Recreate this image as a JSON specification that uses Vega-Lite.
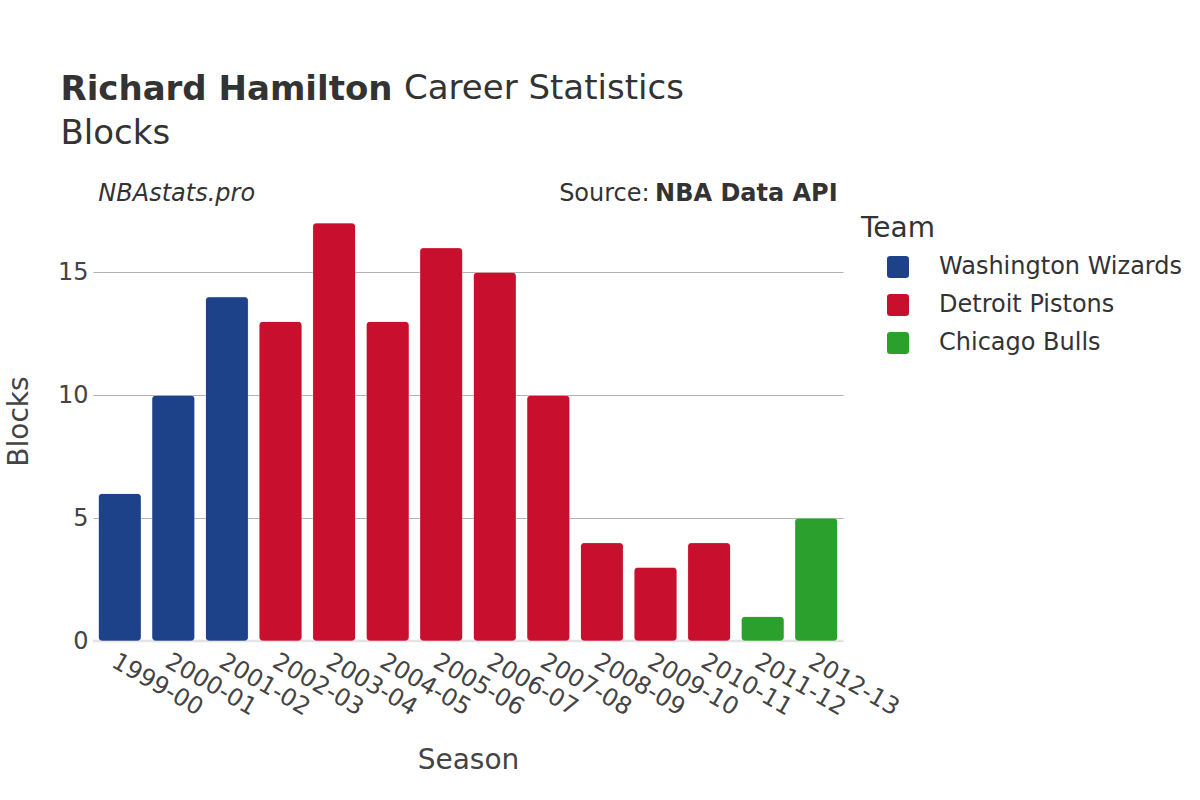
{
  "$schema": "https://vega.github.io/schema/vega-lite/v6.json",
  "background": "white",
  "padding": {"left": 5, "top": 72, "right": 5, "bottom": 5},
  "title": {
    "text": "Richard Hamilton",
    "subtitle": "Blocks",
    "anchor": "start",
    "frame": "bounds",
    "dx": 55,
    "dy": 83,
    "font": "DejaVu Sans",
    "subtitleFont": "DejaVu Sans",
    "fontSize": 34,
    "subtitleFontSize": 34,
    "fontWeight": "bold",
    "subtitleFontWeight": "normal",
    "color": "#333333",
    "subtitleColor": "#333333",
    "subtitlePadding": 10
  },
  "vconcat": [
    {
      "width": 750,
      "height": 440,
      "title": {
        "text": "Career Statistics",
        "anchor": "start",
        "frame": "group",
        "dx": 311,
        "offset": 76,
        "font": "DejaVu Sans",
        "fontSize": 34,
        "fontWeight": "normal",
        "color": "#333333"
      },
      "layer": [
        {
          "data": {"values": [{"z": 0}]},
          "mark": {"type": "rule", "color": "#e3e3e3", "strokeWidth": 2.5},
          "encoding": {"y": {"field": "z", "type": "quantitative"}}
        },
        {
          "data": {
            "values": [
              {"Season": "1999-00", "Team": "Washington Wizards", "Blocks": 6},
              {"Season": "2000-01", "Team": "Washington Wizards", "Blocks": 10},
              {"Season": "2001-02", "Team": "Washington Wizards", "Blocks": 14},
              {"Season": "2002-03", "Team": "Detroit Pistons", "Blocks": 13},
              {"Season": "2003-04", "Team": "Detroit Pistons", "Blocks": 17},
              {"Season": "2004-05", "Team": "Detroit Pistons", "Blocks": 13},
              {"Season": "2005-06", "Team": "Detroit Pistons", "Blocks": 16},
              {"Season": "2006-07", "Team": "Detroit Pistons", "Blocks": 15},
              {"Season": "2007-08", "Team": "Detroit Pistons", "Blocks": 10},
              {"Season": "2008-09", "Team": "Detroit Pistons", "Blocks": 4},
              {"Season": "2009-10", "Team": "Detroit Pistons", "Blocks": 3},
              {"Season": "2010-11", "Team": "Detroit Pistons", "Blocks": 4},
              {"Season": "2011-12", "Team": "Chicago Bulls", "Blocks": 1},
              {"Season": "2012-13", "Team": "Chicago Bulls", "Blocks": 5}
            ]
          },
          "mark": {"type": "bar", "cornerRadius": 4, "stroke": "#ffffff", "strokeWidth": 0.6, "strokeOpacity": 0.5},
          "encoding": {
            "x": {
              "field": "Season",
              "type": "nominal",
              "sort": null,
              "scale": {"paddingInner": 0.2, "paddingOuter": 0.1},
              "axis": {"title": "Season", "labelAngle": 30}
            },
            "y": {
              "field": "Blocks",
              "type": "quantitative",
              "scale": {"domain": [0, 17.9], "nice": false},
              "axis": {"title": "Blocks", "values": [0, 5, 10, 15]}
            },
            "color": {
              "field": "Team",
              "type": "nominal",
              "scale": {
                "domain": ["Washington Wizards", "Detroit Pistons", "Chicago Bulls"],
                "range": ["#1d428a", "#c8102e", "#2ca02c"]
              },
              "legend": {"title": "Team"}
            }
          }
        },
        {
          "data": {"values": [{"label": "NBAstats.pro"}]},
          "mark": {"type": "text", "align": "left", "baseline": "alphabetic", "fontSize": 24, "fontStyle": "italic", "color": "#333333", "font": "DejaVu Sans"},
          "encoding": {
            "text": {"field": "label"},
            "x": {"datum": "1999-00", "bandPosition": 0},
            "y": {"datum": 17.9}
          }
        },
        {
          "data": {"values": [{"label": "NBA Data API"}]},
          "mark": {"type": "text", "align": "right", "baseline": "alphabetic", "fontSize": 24, "fontWeight": "bold", "color": "#333333", "font": "DejaVu Sans"},
          "encoding": {
            "text": {"field": "label"},
            "x": {"datum": "2012-13", "bandPosition": 1},
            "y": {"datum": 17.9}
          }
        },
        {
          "data": {"values": [{"label": "Source:"}]},
          "mark": {"type": "text", "align": "right", "baseline": "alphabetic", "fontSize": 24, "dx": -188, "color": "#333333", "font": "DejaVu Sans"},
          "encoding": {
            "text": {"field": "label"},
            "x": {"datum": "2012-13", "bandPosition": 1},
            "y": {"datum": 17.9}
          }
        }
      ]
    }
  ],
  "config": {
    "font": "DejaVu Sans",
    "view": {"stroke": null},
    "axis": {
      "labelFontSize": 24,
      "titleFontSize": 28,
      "labelColor": "#444444",
      "titleColor": "#444444",
      "titleFontWeight": "normal",
      "ticks": false,
      "domain": false
    },
    "axisX": {"grid": false, "labelPadding": 8, "titlePadding": 27},
    "axisY": {"grid": true, "gridColor": "#b3b3b3", "gridWidth": 1, "labelPadding": 5, "titlePadding": 24},
    "legend": {
      "orient": "right",
      "offset": -56,
      "padding": 14,
      "titleFontSize": 28,
      "titleFontWeight": "normal",
      "titleColor": "#333333",
      "titlePadding": 12,
      "labelFontSize": 24,
      "labelColor": "#333333",
      "labelLimit": 400,
      "symbolType": "M -0.7 -1 H 0.7 Q 1 -1 1 -0.7 V 0.7 Q 1 1 0.7 1 H -0.7 Q -1 1 -1 0.7 V -0.7 Q -1 -1 -0.7 -1 Z",
      "symbolSize": 484,
      "symbolStrokeWidth": 0,
      "symbolOffset": 25,
      "labelOffset": 29,
      "rowPadding": 14
    }
  }
}
